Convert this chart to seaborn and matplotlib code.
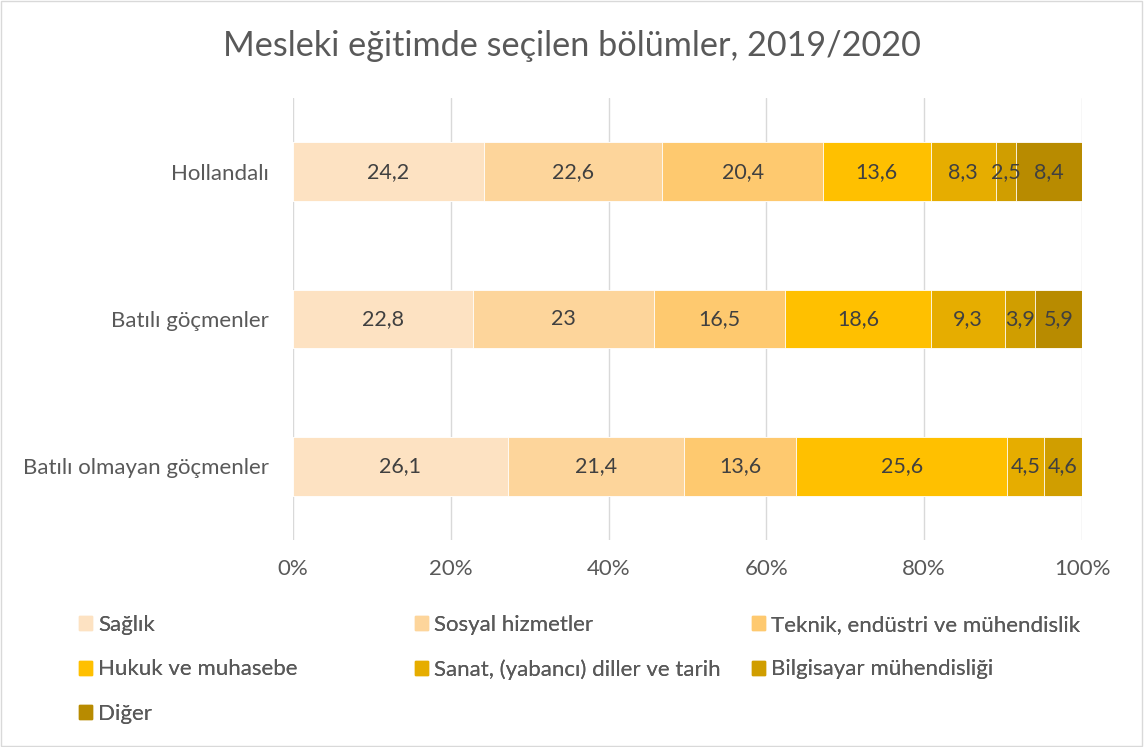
import numpy as np
import pandas as pd
import matplotlib.pyplot as plt
import matplotlib.patches as mpatches
import seaborn as sns

# Veriler
groups = ["Hollandalı", "Batılı göçmenler", "Batılı olmayan göçmenler"]
categories = ["Sağlık", "Sosyal hizmetler", "Teknik, endüstri ve mühendislik",
              "Hukuk ve muhasebe", "Sanat, (yabancı) diller ve tarih",
              "Bilgisayar mühendisliği", "Diğer"]
saglik = [24.2, 22.8, 26.1]
sosyal = [22.6, 23, 21.4]
teknik = [20.4, 16.5, 13.6]
hukuk = [13.6, 18.6, 25.6]
sanat = [8.3, 9.3, 4.5]
bilgisayar = [2.5, 3.9, 4.6]
diger = [8.4, 5.9, np.nan]
colors = ["#FDE2C2", "#FDD59B", "#FEC96F", "#FFC000", "#E6AD00", "#D09E00", "#B88B00"]

df = pd.DataFrame([saglik, sosyal, teknik, hukuk, sanat, bilgisayar, diger],
                  index=categories, columns=groups).T
share = df.div(df.sum(axis=1, skipna=True), axis=0) * 100
cum = share.fillna(0).cumsum(axis=1)

sns.set_style("white")
plt.rcParams['font.family'] = ['Lato', 'DejaVu Sans']
txt = "#595959"

fig = plt.figure(figsize=(11.44, 7.47), dpi=100)
ax = fig.add_axes([0.2561, 0.2771, 0.6897, 0.5917])

# Yığılmış çubuklar: en büyük kümülatiften başlayarak
for cat, col in reversed(list(zip(categories, colors))):
    sns.barplot(x=cum[cat].values, y=groups, color=col, orient="h", width=0.4,
                saturation=1, edgecolor="white", linewidth=0.6, ax=ax, zorder=3)

# Değer etiketleri
for i, g in enumerate(groups):
    left = 0
    for cat in categories:
        v = df.loc[g, cat]
        if np.isnan(v):
            continue
        w = share.loc[g, cat]
        ax.text(left + w / 2, i, f"{v:g}".replace(".", ","), ha="center", va="center",
                fontsize=15.5, color="#404040", zorder=4)
        left += w

ax.set_xlim(0, 100)
ax.set_xticks(range(0, 101, 20))
ax.set_xticklabels([f"{t}%" for t in range(0, 101, 20)])
ax.grid(axis="x", color="#d9d9d9", linewidth=1, zorder=0)
ax.set_axisbelow(True)
sns.despine(ax=ax, left=True, bottom=True)
ax.tick_params(axis="both", length=0, labelsize=16, colors=txt)
ax.tick_params(axis="x", pad=14)
ax.tick_params(axis="y", pad=17)
ax.set_xlabel("")
ax.set_ylabel("")

fig.text(0.5, 0.938, "Mesleki eğitimde seçilen bölümler, 2019/2020",
         ha="center", va="center", fontsize=24.7, color=txt)

# Lejant: üç sütun
handles = [mpatches.Patch(color=c, label=l) for l, c in zip(categories, colors)]
cols = [[0, 3, 6], [1, 4], [2, 5]]
xs = [79 / 1144, 415 / 1144, 752 / 1144]
for x, idx in zip(xs, cols):
    leg = fig.legend(handles=[handles[k] for k in idx], loc="upper left",
                     bbox_to_anchor=(x, 1 - 615 / 747), bbox_transform=fig.transFigure,
                     frameon=False, fontsize=16, handlelength=0.6, handleheight=0.6,
                     handletextpad=0.25, labelspacing=1.1, labelcolor=txt,
                     borderpad=0, borderaxespad=0)
    fig.add_artist(leg)

fig.patches.append(mpatches.Rectangle((0.001, 0.001), 0.997, 0.997, transform=fig.transFigure,
                                      fill=False, edgecolor="#d9d9d9", linewidth=1))

fig.savefig("out.png", dpi=100)
